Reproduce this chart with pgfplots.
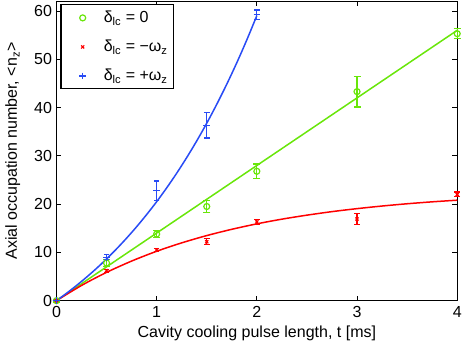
\documentclass[border=0pt]{standalone}
\usepackage{pgfplots}
\pgfplotsset{compat=1.18}
\usepackage{fontspec}
\setmainfont{Liberation Sans}

\definecolor{mgreen}{RGB}{105,230,10}
\definecolor{mred}{RGB}{255,0,0}
\definecolor{mblue}{RGB}{40,75,245}

\begin{document}
\fontsize{16}{19}\selectfont
\begin{tikzpicture}
\begin{axis}[
    scale only axis,
    width=399bp, height=298bp,
    xmin=0, xmax=4,
    ymin=0, ymax=62,
    xtick={0,1,2,3,4},
    ytick={0,10,...,60},
    tick align=inside,
    major tick length=5bp,
    tick style={black, line width=0.8pt},
    axis line style={line width=1.2pt},
    /pgf/number format/assume math mode=true,
    ticklabel style={font=\fontsize{16}{19}\selectfont},
    label style={font=\fontsize{16}{19}\selectfont},
    xticklabel style={yshift=0pt},
    yticklabel style={xshift=1pt},
    xlabel={Cavity cooling pulse length, t [ms]},
    ylabel={Axial occupation number, <n\textsubscript{z}>},
    xlabel style={yshift=2pt},
    ylabel style={yshift=3pt},
    legend style={at={(0.01,0.99)}, anchor=north west, draw=black, line width=1.1pt,
        font=\fontsize{16}{19}\selectfont, inner xsep=4pt, inner ysep=4pt, row sep=11pt},
    legend cell align=left,
    legend image code/.code={\draw[#1] plot coordinates {(0.6cm,0cm)};\path (0cm,0cm) (1.25cm,0cm);},
    clip=false,
]
% data points
\addplot[only marks, color=mgreen, mark=o, mark size=3pt, line width=1.2pt,
    mark options={mgreen},
    error bars/.cd, y dir=both, y explicit,
    error mark options={rotate=90, mark size=3.5pt, line width=1.2pt, mgreen},
    error bar style={line width=1.2pt, mgreen}]
coordinates {
    (0,0) +- (0,0.3)
    (0.5,7.8) +- (0,0.8)
    (1,13.8) +- (0,0.7)
    (1.5,19.5) +- (0,1.2)
    (2,26.8) +- (0,1.5)
    (3,43.3) +- (0,3.2)
    (4,55.3) +- (0,1.0)
};
\addlegendentry{δ\textsubscript{lc} = 0}

\addplot[only marks, color=mred, mark=x, mark size=2.2pt, line width=1.2pt,
    mark options={mred},
    error bars/.cd, y dir=both, y explicit,
    error mark options={rotate=90, mark size=2.8pt, line width=1.2pt, mred},
    error bar style={line width=1.2pt, mred}]
coordinates {
    (0,0) +- (0,0.2)
    (0.5,6.2) +- (0,0.3)
    (1,10.5) +- (0,0.3)
    (1.5,12.2) +- (0,0.6)
    (2,16.3) +- (0,0.5)
    (3,16.9) +- (0,1.1)
    (4,22.0) +- (0,0.5)
};
\addlegendentry{δ\textsubscript{lc} = −ω\textsubscript{z}}

\addplot[only marks, color=mblue, mark=+, mark size=3.3pt, line width=1.2pt,
    mark options={mblue},
    error bars/.cd, y dir=both, y explicit,
    error mark options={rotate=90, mark size=2.8pt, line width=1.2pt, mblue},
    error bar style={line width=1.2pt, mblue}]
coordinates {
    (0,0) +- (0,0.2)
    (0.5,9.0) +- (0,0.5)
    (1,22.8) +- (0,2.0)
    (1.5,36.3) +- (0,2.6)
    (2,59.2) +- (0,1.0)
};
\addlegendentry{δ\textsubscript{lc} = +ω\textsubscript{z}}

% fitted curves
\addplot[mgreen, line width=1.5pt, forget plot] coordinates {(0,0) (4,56.0)};
\addplot[mred, line width=1.5pt, smooth, forget plot] coordinates {
    (0,0) (0.25,3.15) (0.5,5.86) (0.75,8.20) (1,10.23) (1.25,11.97) (1.5,13.48)
    (1.75,14.78) (2,15.91) (2.25,16.88) (2.5,17.71) (2.75,18.44) (3,19.06)
    (3.25,19.60) (3.5,20.07) (3.75,20.47) (4,20.81)
};
\addplot[mblue, line width=1.5pt, smooth, forget plot] coordinates {
    (0,0) (0.1,1.52) (0.2,3.14) (0.3,4.86) (0.4,6.69) (0.5,8.65) (0.6,10.73)
    (0.7,12.95) (0.8,15.31) (0.9,17.83) (1,20.50) (1.1,23.36) (1.2,26.40)
    (1.3,29.64) (1.4,33.09) (1.5,36.76) (1.6,40.68) (1.7,44.85) (1.8,49.29)
    (1.9,54.02) (2,59.05)
};
\end{axis}
\end{tikzpicture}
\end{document}
